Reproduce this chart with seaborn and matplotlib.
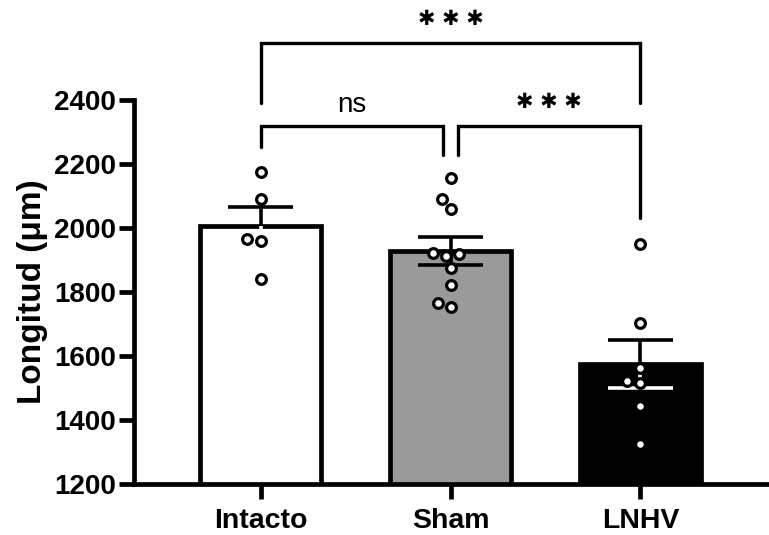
import pandas as pd
import matplotlib
matplotlib.use('Agg')
import matplotlib.pyplot as plt
import seaborn as sns

# Valores (longitud en micrómetros)
groups = ['Intacto', 'Sham', 'LNHV']
intacto = [2175, 2091, 1966, 1959, 1840]
sham = [2156, 2091, 2059, 1913, 1919, 1922, 1875, 1822, 1753, 1766]
lnhv = [1950, 1703, 1563, 1516, 1522, 1444, 1325]
bar_colors = ['#ffffff', '#9a9a9a', '#000000']
low_err_colors = ['#ffffff', '#000000', '#ffffff']

# Comparaciones: (grupo a, grupo b, etiqueta, altura, pata izq, pata der)
comparisons = [
    (0, 2, '✱ ✱ ✱', 2578, 2391, 2391),
    (0, 0.96, 'ns', 2319, 2253, 2228),
    (1.04, 2, '✱ ✱ ✱', 2319, 2228, 2030),
]

df = pd.DataFrame({
    'grupo': ['Intacto'] * len(intacto) + ['Sham'] * len(sham) + ['LNHV'] * len(lnhv),
    'longitud': intacto + sham + lnhv,
})

sns.set_theme(style='ticks', rc={
    'axes.edgecolor': 'black', 'xtick.color': 'black', 'ytick.color': 'black',
    'text.color': 'black', 'axes.labelcolor': 'black',
})
plt.rcParams['font.family'] = ['Liberation Sans', 'DejaVu Sans']

fig = plt.figure(figsize=(7.69, 5.35), dpi=100)
ax = fig.add_axes([0.1743, 0.0953, 0.8231, 0.7178])

sns.barplot(data=df, x='grupo', y='longitud', hue='grupo', order=groups,
            hue_order=groups, palette=bar_colors, legend=False, errorbar=None,
            width=0.635, edgecolor='black', linewidth=3.4, ax=ax, zorder=1)

# media +/- error estándar
stats = df.groupby('grupo')['longitud'].agg(['mean', 'sem']).reindex(groups)
cap = 0.17
for i, (m, s) in enumerate(zip(stats['mean'], stats['sem'])):
    ax.vlines(i, m, m + s, color='black', lw=2.6, zorder=3)
    ax.hlines(m + s, i - cap, i + cap, color='black', lw=2.6, zorder=3)
    ax.vlines(i, m - s, m, color=low_err_colors[i], lw=2.6, zorder=3)
    ax.hlines(m - s, i - cap, i + cap, color=low_err_colors[i], lw=2.6, zorder=3)

sns.swarmplot(data=df, x='grupo', y='longitud', order=groups, color='white',
              edgecolor='black', linewidth=2.3, size=7, ax=ax, zorder=4)

ax.set_xlim(-0.667, 2.667)
ax.set_ylim(1200, 2400)
ax.set_yticks(range(1200, 2401, 200))
ax.set_xlabel('')
ax.set_ylabel('Longitud (μm)', fontsize=24, fontweight='bold', labelpad=4)
sns.despine(ax=ax)
for sp in ['left', 'bottom']:
    ax.spines[sp].set_linewidth(3.4)
ax.tick_params(axis='both', width=3.4, length=11, labelsize=20, pad=2)
ax.tick_params(axis='x', pad=6, labelsize=20.5)
for lab in ax.get_xticklabels() + ax.get_yticklabels():
    lab.set_fontweight('bold')

for a, b, label, top, la, lb in comparisons:
    ax.plot([a, a, b, b], [la, top, top, lb], color='black', lw=2.4,
            clip_on=False, solid_joinstyle='miter')
    if label == 'ns':
        ax.text((a + b) / 2, top + 25, label, ha='center', va='bottom', fontsize=20)
    else:
        ax.text((a + b) / 2, top + 75, label, ha='center', va='center',
                fontsize=15, family=['DejaVu Sans'])

fig.savefig('out.png', dpi=100)
